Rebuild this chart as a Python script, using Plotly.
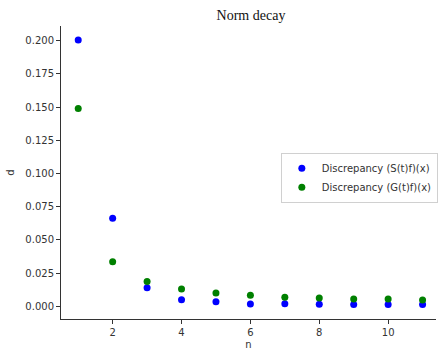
import plotly.graph_objects as go

n_values = [1, 2, 3, 4, 5, 6, 7, 8, 9, 10, 11]
disc_S = [0.2005, 0.0663, 0.0140, 0.0050, 0.0034, 0.0018, 0.0019, 0.0016, 0.0015, 0.0015, 0.0014]
disc_G = [0.1490, 0.0335, 0.0188, 0.0131, 0.0101, 0.0083, 0.0068, 0.0063, 0.0056, 0.0056, 0.0048]
series_names = ["Discrepancy (S(t)f)(x)", "Discrepancy (G(t)f)(x)"]
x_ticks = [2, 4, 6, 8, 10]
y_ticks = [0.0, 0.025, 0.05, 0.075, 0.1, 0.125, 0.15, 0.175, 0.2]

fig = go.Figure()
fig.add_trace(go.Scatter(x=n_values, y=disc_S, mode="markers", name=series_names[0],
                         marker=dict(color="#0000ff", size=7, line=dict(width=0))))
fig.add_trace(go.Scatter(x=n_values, y=disc_G, mode="markers", name=series_names[1],
                         marker=dict(color="#008000", size=7, line=dict(width=0))))

axis_font = dict(family="DejaVu Sans", size=10, color="#333333")
fig.update_layout(
    width=438, height=350,
    margin=dict(l=61, r=0, t=26, b=31),
    plot_bgcolor="white", paper_bgcolor="white",
    title=dict(text="Norm decay", x=251/438, xanchor="center",
               y=1-15/350, yref="container", yanchor="middle",
               font=dict(family="Liberation Serif", size=14, color="#111111")),
    xaxis=dict(range=[0.5, 11.39], tickvals=x_ticks, showgrid=False, zeroline=False,
               showline=True, linecolor="#333333", linewidth=1, ticks="outside", ticklen=4,
               tickcolor="#333333", tickfont=axis_font,
               title=dict(text="n", font=axis_font, standoff=6)),
    yaxis=dict(range=[-0.0095, 0.211], tickvals=y_ticks, tickformat=".3f", showgrid=False,
               zeroline=False, showline=True, linecolor="#333333", linewidth=1, ticks="outside",
               ticklen=4, tickcolor="#333333", tickfont=axis_font,
               title=dict(text="d", font=axis_font, standoff=8)),
    legend=dict(x=(282-61)/377, y=(319.3-153)/293, xanchor="left", yanchor="top",
                bordercolor="#d0d0d0", borderwidth=1, bgcolor="white",
                font=dict(family="DejaVu Sans", size=10, color="#333333"),
                itemsizing="trace", itemwidth=30, tracegroupgap=0),
    showlegend=True,
)

fig.write_html("out.html")
